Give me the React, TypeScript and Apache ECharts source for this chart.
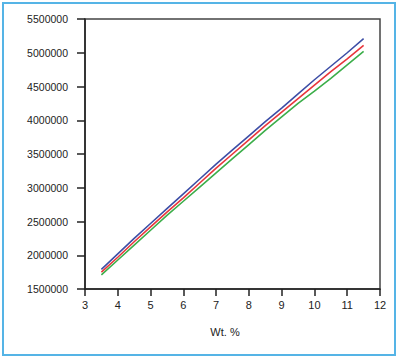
import React, { useEffect, useRef } from "react";
import * as echarts from "echarts";

const xValues = [3.5, 4, 4.5, 5, 5.5, 6, 6.5, 7, 7.5, 8, 8.5, 9, 9.5, 10, 10.5, 11, 11.5];
const blueSeries = [1790000, 2020000, 2250000, 2470000, 2690000, 2910000, 3130000, 3350000, 3560000, 3770000, 3980000, 4180000, 4390000, 4600000, 4800000, 5000000, 5210000];
const redSeries = [1750000, 1970000, 2200000, 2420000, 2640000, 2850000, 3070000, 3290000, 3500000, 3710000, 3920000, 4120000, 4320000, 4520000, 4720000, 4910000, 5110000];
const greenSeries = [1710000, 1930000, 2150000, 2370000, 2590000, 2800000, 3010000, 3220000, 3430000, 3640000, 3850000, 4050000, 4250000, 4430000, 4620000, 4820000, 5020000];
const xAxisTitle = "Wt. %";

const FONT = "'Liberation Sans', Arial, Helvetica, sans-serif";

export default function App() {
  const ref = useRef<HTMLDivElement>(null);
  useEffect(() => {
    document.body.style.margin = "0";
    const chart = echarts.init(ref.current!, undefined, { renderer: "svg" });
    const mk = (vals: number[]) => xValues.map((x, i) => [x, vals[i]]);
    const line = (name: string, vals: number[], color: string) => ({
      name,
      type: "line",
      data: mk(vals),
      showSymbol: false,
      lineStyle: { color, width: 1.6 },
      itemStyle: { color },
    });
    chart.setOption({
      animation: false,
      backgroundColor: "#ffffff",
      grid: {
        left: 85,
        right: 20,
        top: 19,
        bottom: 71,
        show: true,
        borderColor: "#444",
        borderWidth: 1.5,
        backgroundColor: "transparent",
      },
      xAxis: {
        type: "value",
        min: 3,
        max: 12,
        interval: 1,
        axisLine: { show: true, lineStyle: { color: "#222", width: 1.5 } },
        axisTick: { show: true, length: 7, lineStyle: { color: "#222", width: 1.5 } },
        axisLabel: { color: "#222", fontSize: 11, fontFamily: FONT, margin: 10 },
        splitLine: { show: false },
      },
      yAxis: {
        type: "value",
        min: 1500000,
        max: 5500000,
        interval: 500000,
        axisLine: { show: true, lineStyle: { color: "#222", width: 1.5 } },
        axisTick: { show: true, length: 8, lineStyle: { color: "#222", width: 1.5 } },
        axisLabel: {
          color: "#222",
          fontSize: 10.5,
          fontFamily: FONT,
          margin: 17,
          formatter: (v: number) => String(v),
        },
        splitLine: { show: false },
      },
      graphic: [
        {
          type: "rect",
          shape: { x: 3, y: 3, width: 392, height: 352 },
          style: { fill: "none", stroke: "#55b4e6", lineWidth: 2 },
          silent: true,
        },
        {
          type: "text",
          x: 225,
          y: 332,
          style: {
            text: xAxisTitle,
            fill: "#222",
            fontSize: 11,
            fontFamily: FONT,
            align: "center",
            verticalAlign: "middle",
          },
        },
      ],
      series: [
        line("Blue", blueSeries, "#3d4ea6"),
        line("Red", redSeries, "#e8363c"),
        line("Green", greenSeries, "#3cae4a"),
      ],
    });
    return () => chart.dispose();
  }, []);
  return <div ref={ref} style={{ width: 400, height: 360 }} />;
}
